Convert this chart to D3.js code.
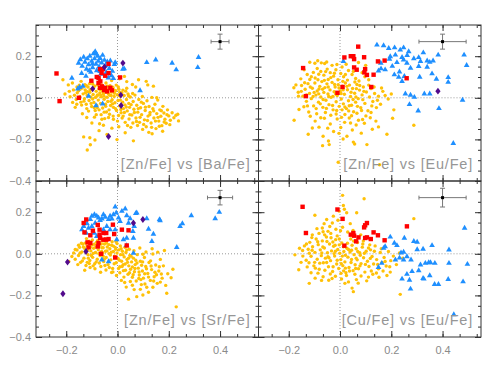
<!DOCTYPE html>
<html>
<head>
<meta charset="utf-8">
<script src="https://cdn.jsdelivr.net/npm/d3@7"></script>
<style>
  body { margin: 0; background: #fff; }
  svg { display: block; }
  .tick text { font-family: "Liberation Sans", Arial, sans-serif; font-size: 11px; fill: #8a8a8a; }
</style>
</head>
<body>
<svg id="chart"></svg>
<script>
// panel titles, error bars (x, y) and axis ticks
var panelLabels = ['[Zn/Fe] vs [Ba/Fe]', '[Zn/Fe] vs [Eu/Fe]', '[Zn/Fe] vs [Sr/Fe]', '[Cu/Fe] vs [Eu/Fe]'];
var errX = [0.035, 0.092, 0.049, 0.092];
var errY = [0.036, 0.036, 0.035, 0.045];
var errCenter = [0.4, 0.27];
var xMajor = [-0.2, 0.0, 0.2, 0.4];
var yMajor = [-0.4, -0.2, 0.0, 0.2];

// --- [Zn/Fe] vs [Ba/Fe]
var baYellow = [
  [-0.213,0.087],[-0.192,0.062],[-0.176,0.071],[-0.158,0.052],[-0.142,0.079],[-0.121,0.058],[-0.097,0.066],[-0.071,0.092],[-0.045,0.071],[-0.023,0.083],[0.008,0.091],[0.027,0.103],[0.036,0.078],[0.058,0.064],[0.082,0.087],[0.112,0.079],[0.118,0.062],[0.140,0.056],[0.071,0.052],[-0.005,0.061],[-0.188,0.031],[-0.205,0.018],
  [-0.168,0.012],[-0.161,-0.008],[-0.152,0.034],[-0.147,0.006],[-0.143,-0.021],[-0.138,0.047],[-0.134,0.019],[-0.129,-0.004],[-0.126,0.038],[-0.122,-0.031],[-0.118,0.011],[-0.115,0.052],[-0.111,-0.013],[-0.108,0.027],[-0.104,0.004],[-0.101,-0.042],[-0.098,0.041],[-0.095,0.016],[-0.092,-0.022],[-0.089,0.057],[-0.086,0.002],[-0.083,0.031],[-0.081,-0.036],[-0.078,0.014],[-0.075,-0.011],[-0.073,0.044],[-0.069,0.023],[-0.066,-0.027],[-0.064,0.005],[-0.061,0.036],[-0.058,-0.049],[-0.055,0.018],[-0.052,-0.007],[-0.049,0.047],[-0.047,-0.031],[-0.044,0.026],[-0.041,0.003],[-0.038,-0.018],[-0.036,0.039],[-0.033,-0.058],[-0.030,0.012],[-0.027,-0.037],[-0.024,0.028],[-0.021,-0.009],[-0.018,0.051],[-0.016,-0.046],[-0.013,0.006],[-0.010,-0.024],[-0.007,0.034],[-0.004,-0.061],[-0.001,0.015],[0.002,-0.013],[0.005,0.041],[0.008,-0.039],[0.011,0.007],[0.014,-0.072],[0.017,0.024],[0.020,-0.021],[0.023,-0.052],[0.026,0.011],[0.029,-0.034],[0.032,0.032],[0.035,-0.008],[0.038,-0.063],[0.041,0.018],[0.044,-0.027],[0.047,-0.046],[0.050,0.004],[-0.157,0.024],[-0.120,-0.052],[-0.097,-0.006],[-0.072,-0.058],[-0.062,0.062],[-0.043,-0.068],[-0.029,0.058],[-0.012,0.022],[0.003,0.052],[-0.087,-0.061],[-0.109,0.068],[-0.064,-0.081],[-0.035,0.018],[-0.019,-0.029],[0.009,0.027],[-0.053,0.008],[-0.080,0.009],[-0.125,0.024],[-0.140,-0.035],[-0.175,-0.022],[-0.185,0.005],[-0.165,-0.046],
  [0.056,-0.083],[0.061,-0.018],[0.064,-0.055],[0.068,0.013],[0.072,-0.097],[0.075,-0.036],[0.079,-0.069],[0.083,-0.008],[0.086,-0.118],[0.090,-0.048],[0.094,-0.081],[0.097,0.006],[0.101,-0.027],[0.105,-0.106],[0.108,-0.061],[0.112,-0.139],[0.115,-0.014],[0.119,-0.088],[0.123,-0.042],[0.127,-0.071],[0.131,-0.121],[0.134,0.002],[0.138,-0.053],[0.142,-0.097],[0.146,-0.031],[0.150,-0.148],[0.153,-0.076],[0.157,-0.011],[0.161,-0.112],[0.165,-0.058],[0.169,-0.089],[0.173,-0.134],[0.177,-0.041],[0.181,-0.073],[0.185,-0.103],[0.190,-0.122],[0.195,-0.058],[0.200,-0.087],[0.206,-0.108],[0.213,-0.072],[0.220,-0.096],[0.228,-0.084],[0.235,-0.079],[0.238,-0.111],[0.153,0.000],[0.122,-0.166],[0.098,-0.152],[0.078,-0.133],[0.060,-0.121],[0.045,-0.102],[0.030,-0.118],[0.018,-0.097],[0.052,-0.142],[0.135,-0.173],[0.176,-0.161],
  [-0.132,-0.188],[-0.108,-0.192],[-0.106,-0.226],[-0.118,-0.251],[-0.088,-0.203],[-0.041,-0.176],[-0.002,-0.201],[0.062,-0.207],[0.030,-0.168],[-0.072,-0.158],[-0.120,-0.095],[-0.137,-0.077],[-0.100,-0.121],[-0.055,-0.132],[-0.022,-0.146],[0.000,-0.112],[-0.017,-0.088],[-0.090,-0.093],[-0.050,-0.100],[0.005,-0.139],[-0.070,-0.125],[-0.035,-0.095],
  [-0.146,0.041],[-0.131,-0.016],[-0.117,0.029],[-0.103,-0.027],[-0.094,0.048],[-0.079,-0.047],[-0.066,0.013],[-0.057,0.029],[-0.046,-0.041],[-0.039,0.056],[-0.026,-0.017],[-0.014,0.038],[-0.008,-0.052],[0.006,0.011],[0.013,-0.056],[0.021,0.037],[0.027,-0.071],[0.034,-0.044],[0.043,0.009],[0.048,-0.081],[0.053,-0.033],[0.059,0.021],[0.066,-0.071],[0.074,-0.114],[0.081,-0.052],[0.088,-0.094],[0.093,-0.021],[0.102,-0.128],[0.109,-0.045],[0.117,-0.109],[0.126,-0.081],[0.133,-0.142],[0.141,-0.063],[0.148,-0.112],[0.158,-0.094],[0.163,-0.137],[0.171,-0.062],[0.182,-0.116],[0.193,-0.081],[0.204,-0.129],[-0.172,0.038],[-0.159,-0.031],[-0.149,0.061],[-0.127,0.063],[-0.113,-0.064],[-0.091,-0.048],[-0.077,0.061],[-0.052,-0.069],[-0.031,-0.079],[-0.016,-0.103],[0.004,-0.085],[0.022,-0.088],[0.039,-0.133],[-0.061,-0.103],[-0.083,-0.081],[-0.107,0.039],[-0.069,0.041],[-0.025,0.011],[0.011,-0.011],[0.036,0.046]
];
var baBlue = [
  [-0.152,0.167],[-0.145,0.184],[-0.138,0.152],[-0.132,0.196],[-0.127,0.172],[-0.121,0.138],[-0.118,0.188],[-0.113,0.159],[-0.108,0.201],[-0.104,0.123],[-0.101,0.176],[-0.097,0.145],[-0.094,0.212],[-0.090,0.188],[-0.087,0.222],[-0.084,0.162],[-0.081,0.131],[-0.078,0.201],[-0.075,0.176],[-0.072,0.149],[-0.068,0.190],[-0.065,0.114],[-0.062,0.168],[-0.058,0.205],[-0.055,0.138],[-0.051,0.181],[-0.047,0.155],[-0.044,0.122],[-0.040,0.173],[-0.036,0.096],[-0.032,0.142],[-0.028,0.178],[-0.024,0.107],[-0.020,0.128],[-0.016,0.093],[-0.012,0.161],[-0.082,0.211],[-0.098,0.163],[-0.110,0.131],[-0.068,0.127],[-0.123,0.104],[-0.140,0.118],
  [-0.178,0.095],[-0.009,0.170],[0.021,0.138],[0.026,0.140],[0.114,0.170],[0.149,0.183],[0.213,0.167],[0.229,0.135],[0.316,0.195],[0.313,0.146],[0.088,0.035],[-0.155,0.043],[-0.148,0.050],[-0.135,0.056],[-0.113,0.008],[-0.084,-0.037],[-0.058,-0.029],[-0.050,0.046]
];
var baRed = [
  [-0.238,0.117],[-0.226,-0.016],[-0.151,0.000],[-0.102,0.082],[-0.035,0.163],[-0.057,0.138],[-0.068,0.138],[-0.062,0.119],[-0.035,0.119],[-0.048,0.106],[-0.081,0.100],[-0.074,0.095],[-0.074,0.071],[-0.067,0.079],[-0.061,0.055],[-0.068,0.048],[-0.048,0.048],[-0.052,0.037],[-0.028,0.048],[-0.022,0.036],[-0.041,0.031],[0.010,0.098]
];
var baPurple = [[0.021,0.167],[-0.051,0.148],[-0.097,0.043],[0.013,0.013],[0.014,-0.037],[-0.035,-0.186]];

// --- [Zn/Fe] vs [Eu/Fe]
var euYellow = [
  [-0.118,0.171],[-0.098,0.166],[-0.087,0.178],[-0.073,0.168],[-0.060,0.165],[-0.052,0.172],[-0.031,0.156],[-0.012,0.160],[0.008,0.148],[0.024,0.161],[0.072,0.170],[0.100,0.156],[-0.140,0.135],[-0.128,0.112],[-0.104,0.122],[-0.089,0.141],[-0.075,0.127],[-0.063,0.109],[-0.050,0.138],[-0.038,0.121],[-0.025,0.104],[-0.016,0.135],[0.003,0.117],[0.014,0.101],[0.033,0.131],[0.047,0.112],[0.061,0.093],[0.086,0.121],[0.097,0.101],[0.112,0.087],[-0.153,0.091],[-0.118,0.088],[-0.097,0.095],[-0.046,0.088],[-0.008,0.087],[0.029,0.085],[0.074,0.081],
  [-0.180,0.048],[-0.172,0.062],[-0.163,0.027],[-0.150,0.059],[-0.145,0.008],[-0.136,0.041],[-0.131,-0.017],[-0.125,0.068],[-0.119,0.021],[-0.112,-0.004],[-0.108,0.046],[-0.103,-0.039],[-0.098,0.071],[-0.094,0.013],[-0.089,0.033],[-0.084,-0.021],[-0.079,0.055],[-0.075,0.004],[-0.071,0.078],[-0.067,-0.046],[-0.063,0.026],[-0.059,0.049],[-0.055,-0.012],[-0.051,0.067],[-0.047,0.018],[-0.043,-0.033],[-0.039,0.038],[-0.035,0.002],[-0.031,0.074],[-0.027,-0.058],[-0.023,0.029],[-0.019,0.052],[-0.015,-0.019],[-0.011,0.011],[-0.007,0.063],[-0.003,-0.041],[0.001,0.033],[0.005,-0.006],[0.009,0.056],[0.013,-0.029],[0.017,0.017],[0.021,0.071],[0.025,-0.052],[0.029,0.039],[0.033,-0.014],[0.037,0.061],[0.041,0.006],[0.045,-0.036],[0.049,0.045],[0.053,-0.067],[0.057,0.022],[0.061,-0.021],[0.066,0.064],[0.071,-0.004],[0.076,0.037],[0.081,-0.048],[0.086,0.014],[0.091,0.052],[0.097,-0.027],[0.103,0.028],[0.109,-0.062],[0.115,0.004],[0.121,0.044],[0.128,-0.018],[0.135,0.021],[0.142,-0.047],[0.150,0.008],[0.158,-0.031],[0.167,0.031],[0.176,0.011],[0.188,-0.006],[0.200,0.018],[-0.160,-0.056],[-0.141,-0.043],[-0.122,-0.068],[-0.091,-0.077],[-0.057,-0.071],[-0.015,-0.078],[0.019,-0.080],[0.066,-0.074],[0.121,-0.071],[-0.082,0.042],[-0.046,0.052],[-0.028,0.007],[0.004,0.021],[0.036,-0.038],[-0.066,-0.008],[0.064,0.044],[0.089,-0.009],[-0.101,0.026],[-0.131,0.014],
  [-0.179,-0.108],[-0.124,-0.175],[-0.097,-0.112],[-0.082,-0.141],[-0.068,-0.230],[-0.061,-0.098],[-0.045,-0.208],[-0.042,-0.225],[-0.038,-0.126],[-0.025,-0.162],[-0.011,-0.102],[0.003,-0.143],[0.018,-0.118],[0.027,-0.185],[0.036,-0.097],[0.048,-0.155],[0.052,-0.213],[0.057,-0.222],[0.063,-0.131],[0.072,-0.108],[0.083,-0.170],[0.095,-0.122],[0.105,-0.225],[0.118,-0.096],[0.126,-0.151],[0.140,-0.112],[0.150,-0.140],[0.183,-0.175],[0.205,-0.098],[0.210,-0.058],[0.288,-0.132],[0.154,-0.322],[-0.007,-0.310],[-0.066,-0.185],[0.012,-0.198],[-0.108,-0.145],
  [-0.151,0.031],[-0.138,0.072],[-0.127,-0.039],[-0.116,0.052],[-0.105,0.006],[-0.093,-0.052],[-0.086,0.087],[-0.077,-0.029],[-0.068,0.041],[-0.061,0.084],[-0.053,-0.051],[-0.044,0.006],[-0.036,0.097],[-0.029,-0.037],[-0.021,0.064],[-0.013,-0.061],[-0.004,0.047],[0.006,-0.094],[0.011,0.079],[0.019,-0.044],[0.027,0.055],[0.034,-0.063],[0.043,0.027],[0.051,-0.008],[0.058,0.076],[0.068,-0.041],[0.077,0.059],[0.084,-0.061],[0.093,0.031],[0.101,-0.087],[0.112,0.061],[0.124,-0.039],[0.133,0.052],[0.146,-0.012],[0.162,0.047],[-0.112,0.101],[-0.083,0.113],[-0.056,0.126],[-0.022,0.118],[0.021,0.112],[0.052,0.127],[-0.116,-0.089],[-0.075,-0.096],[-0.036,-0.084],[0.008,-0.058],[0.045,-0.086],[0.088,-0.104],[-0.048,-0.146],[-0.004,-0.171],[0.041,-0.121],[-0.162,0.008],[-0.017,0.018],[0.012,0.038],[-0.083,0.019],[0.062,0.004]
];
var euBlue = [
  [0.013,0.175],[0.144,0.254],[0.170,0.251],[0.190,0.238],[0.213,0.241],[0.235,0.230],[0.248,0.241],[0.268,0.222],[0.325,0.217],[0.383,0.206],[0.484,0.206],[0.494,0.156],[0.159,0.167],[0.196,0.198],[0.193,0.186],[0.216,0.206],[0.222,0.170],[0.242,0.195],[0.248,0.183],[0.261,0.167],[0.288,0.189],[0.307,0.194],[0.314,0.175],[0.340,0.178],[0.350,0.171],[0.363,0.178],[0.150,0.130],[0.176,0.135],[0.212,0.111],[0.229,0.100],[0.251,0.103],[0.275,0.143],[0.307,0.151],[0.340,0.148],[0.359,0.116],[0.376,0.090],[0.311,0.100],[0.422,0.098],[0.422,0.075],[0.242,0.079],[0.255,0.019],[0.275,0.013],[0.290,0.003],[0.329,0.019],[0.350,0.019],[0.478,-0.011],[0.271,-0.032],[0.305,-0.063],[0.386,-0.051],[0.442,-0.219],[0.160,0.140],[0.204,0.152],[0.232,0.125],[0.262,0.204]
];
var euRed = [
  [-0.144,0.143],[-0.133,0.008],[-0.010,0.024],[0.010,0.052],[0.017,0.194],[0.042,0.200],[0.052,0.200],[0.055,0.186],[0.071,0.246],[0.094,0.195],[0.055,0.146],[0.065,0.135],[0.098,0.138],[0.095,0.122],[0.105,0.110],[0.131,0.111],[0.122,0.052],[0.148,0.175],[0.174,0.179],[0.260,0.094]
];
var euPurple = [[0.382,0.032]];

// --- [Zn/Fe] vs [Sr/Fe]
var srYellow = [
  [-0.190,-0.037],[-0.178,-0.013],[-0.171,0.004],[-0.165,-0.026],[-0.158,0.018],[-0.152,-0.008],[-0.148,0.031],[-0.144,-0.041],[-0.139,0.009],[-0.135,0.047],[-0.131,-0.021],[-0.127,0.024],[-0.123,-0.056],[-0.119,0.038],[-0.115,-0.004],[-0.111,0.061],[-0.108,-0.032],[-0.104,0.014],[-0.100,0.042],[-0.097,-0.017],[-0.093,0.027],[-0.089,-0.048],[-0.086,0.006],[-0.082,0.055],[-0.079,-0.026],[-0.075,0.019],[-0.072,0.038],[-0.068,-0.009],[-0.065,-0.061],[-0.061,0.029],[-0.058,0.003],[-0.054,-0.037],[-0.051,0.047],[-0.047,0.012],[-0.044,-0.018],[-0.040,0.033],[-0.037,-0.052],[-0.033,0.001],[-0.030,0.024],[-0.026,-0.029],[-0.023,0.041],[-0.019,-0.071],[-0.016,0.011],[-0.012,-0.011],[-0.009,0.031],[-0.005,-0.043],[-0.002,0.004],[0.002,-0.022],[0.005,0.019],[0.009,-0.062],[0.012,-0.004],[0.016,-0.036],[0.019,0.012],[0.023,-0.081],[0.026,-0.015],[0.030,-0.049],[0.033,0.006],[0.037,-0.027],[0.041,-0.098],[0.044,-0.058],[0.048,-0.008],[0.051,-0.074],[0.055,-0.039],[0.058,-0.113],[0.062,-0.021],[0.066,-0.086],[0.069,-0.052],[0.073,-0.131],[0.077,-0.004],[0.081,-0.069],[0.085,-0.102],[0.089,-0.036],[0.093,-0.148],[0.097,-0.083],[0.101,-0.117],[0.105,-0.018],[0.110,-0.061],[0.114,-0.161],[0.118,-0.095],[0.123,-0.042],[0.128,-0.128],[0.133,-0.076],[0.138,-0.001],[0.143,-0.110],[0.149,-0.054],[0.155,-0.142],[0.161,-0.083],[0.167,-0.027],[0.174,-0.117],[0.179,-0.058],[0.183,0.016],[0.188,-0.152],[0.192,-0.190],[0.209,-0.115],[0.216,-0.074],[0.229,-0.255],[0.043,-0.218],[0.075,-0.206],[0.099,-0.198],[0.121,-0.185],[0.065,-0.172],[0.034,-0.160],[0.015,-0.128],[-0.004,-0.104],[-0.023,-0.090],[-0.045,-0.078],[-0.066,-0.089],[-0.088,-0.072],[-0.107,-0.066],[-0.128,-0.079],[-0.141,0.051],[-0.121,0.073],[-0.098,0.066],[-0.074,0.082],[-0.059,0.062],[-0.036,0.071],[-0.021,0.058],[-0.002,0.049],[0.011,0.038],[0.029,0.031],[0.046,0.022],[0.064,0.015],[0.087,0.028],[0.111,0.009],[0.135,0.024],[0.157,0.008],[-0.117,0.018],[-0.095,0.002],[-0.077,0.041],[-0.056,-0.012],[-0.043,0.052],[-0.028,-0.006],[-0.007,0.022],[0.021,-0.004],[-0.133,0.033],[-0.085,0.032],[-0.062,0.011],[-0.016,0.037],[0.007,-0.031],[0.039,-0.041],[-0.049,-0.056],[-0.110,-0.047],[-0.155,-0.052],[0.058,-0.063],[0.071,-0.031],[0.094,-0.055],[0.129,-0.034],[0.146,-0.089],[0.107,-0.145],[0.083,-0.119],[0.050,-0.133],[0.025,-0.112],[0.138,-0.161],[0.167,-0.136],[0.196,-0.096],
  [-0.146,0.004],[-0.137,-0.034],[-0.125,0.052],[-0.114,-0.021],[-0.106,0.031],[-0.091,0.046],[-0.083,-0.039],[-0.071,-0.044],[-0.063,0.047],[-0.052,-0.026],[-0.041,0.014],[-0.032,-0.066],[-0.024,0.008],[-0.013,-0.048],[-0.006,0.059],[0.004,-0.071],[0.014,0.024],[0.022,-0.052],[0.031,-0.079],[0.036,0.018],[0.047,-0.091],[0.053,-0.012],[0.061,-0.101],[0.068,-0.071],[0.076,-0.044],[0.084,-0.087],[0.091,-0.124],[0.098,-0.039],[0.106,-0.096],[0.113,-0.072],[0.121,-0.112],[0.131,-0.059],[0.141,-0.131],[0.152,-0.101],[0.163,-0.062],[0.171,-0.097],[-0.165,0.021],[-0.152,0.041],[-0.118,-0.041],[-0.095,-0.058],[-0.078,0.063],[-0.048,0.071],[-0.018,-0.087],[0.009,-0.091],[0.028,-0.138],[0.058,-0.151],[0.089,-0.171],[-0.056,0.029],[-0.034,0.044],[-0.009,-0.016],[0.018,-0.061],[-0.102,-0.008],[-0.073,0.001],[0.043,-0.021],[0.099,-0.002]
];
var srBlue = [
  [-0.139,0.116],[-0.132,0.132],[-0.119,0.145],[-0.106,0.165],[-0.100,0.181],[-0.090,0.189],[-0.081,0.181],[-0.074,0.173],[-0.068,0.161],[-0.061,0.168],[-0.055,0.189],[-0.048,0.177],[-0.035,0.165],[-0.029,0.181],[-0.022,0.168],[-0.016,0.189],[-0.009,0.226],[-0.005,0.197],[0.004,0.173],[0.010,0.156],[0.017,0.205],[0.030,0.216],[0.036,0.184],[0.043,0.148],[0.049,0.169],[0.060,0.108],[0.065,0.132],[0.071,0.194],[-0.122,0.100],[-0.100,0.132],[-0.091,0.100],[-0.081,0.084],[-0.055,0.116],[-0.029,0.116],[-0.009,0.116],[-0.003,0.068],[0.023,0.068],[0.036,0.076],[0.062,0.076],[-0.042,0.132],[-0.087,0.148],[-0.113,0.124],
  [0.075,0.197],[0.114,0.169],[0.121,0.119],[0.140,0.095],[0.134,0.060],[0.164,0.165],[0.166,0.160],[0.231,0.031],[0.244,0.132],[0.253,0.145],[0.288,0.184],[0.381,0.169],[0.397,0.200],[-0.061,-0.029],[-0.035,-0.037],[0.062,0.003],[0.035,0.040]
];
var srRed = [
  [-0.122,0.165],[-0.132,0.148],[-0.129,0.103],[-0.106,0.089],[-0.117,0.055],[-0.106,0.052],[-0.113,0.031],[-0.096,0.111],[-0.077,0.139],[-0.070,0.116],[-0.070,0.092],[-0.068,0.076],[-0.074,0.052],[-0.077,0.035],[-0.055,0.100],[-0.044,0.100],[-0.055,0.068],[-0.044,0.068],[-0.035,0.071],[-0.018,0.140],[-0.013,0.095],[-0.064,0.000],[-0.009,-0.018],[0.017,0.116],[0.043,0.113],[0.036,0.040]
];
var srPurple = [[-0.195,-0.040],[-0.213,-0.192],[-0.123,0.011],[0.062,0.148],[0.099,0.165]];

// --- [Cu/Fe] vs [Eu/Fe]
var cuYellow = [
  [0.010,0.281],[0.094,0.265],[0.013,0.232],[0.017,0.214],[0.065,0.197],[-0.098,0.185],[-0.052,0.165],[-0.026,0.181],[-0.008,0.161],[-0.069,0.124],[-0.040,0.131],[-0.082,0.098],[-0.108,0.091],[-0.016,0.118],[-0.047,0.108],[0.026,0.197],[0.040,0.145],[0.010,0.128],[0.288,0.169],[-0.003,0.205],[0.030,0.105],[-0.030,0.148],[-0.062,0.145],[-0.090,0.121],
  [-0.176,-0.005],[-0.161,-0.077],[-0.146,0.016],[-0.139,0.038],[-0.132,-0.031],[-0.124,0.022],[-0.118,0.055],[-0.113,-0.012],[-0.107,0.034],[-0.102,-0.058],[-0.098,0.007],[-0.093,0.071],[-0.089,-0.026],[-0.085,0.044],[-0.081,-0.074],[-0.077,0.019],[-0.073,-0.009],[-0.069,0.062],[-0.065,-0.043],[-0.061,0.028],[-0.057,-0.021],[-0.053,0.081],[-0.049,0.005],[-0.045,-0.062],[-0.041,0.047],[-0.037,-0.033],[-0.033,0.014],[-0.029,-0.085],[-0.025,0.036],[-0.021,-0.011],[-0.017,0.068],[-0.013,-0.049],[-0.009,0.021],[-0.005,-0.071],[-0.001,0.003],[0.003,-0.028],[0.007,0.052],[0.011,-0.057],[0.015,0.011],[0.019,-0.039],[0.023,-0.091],[0.027,0.027],[0.031,-0.016],[0.035,-0.066],[0.039,0.009],[0.043,-0.042],[0.047,0.041],[0.051,-0.081],[0.055,-0.004],[0.059,-0.053],[0.063,0.024],[0.067,-0.029],[0.072,-0.072],[0.077,0.005],[0.082,-0.047],[0.087,0.032],[0.092,-0.019],[0.097,-0.088],[0.102,0.012],[0.107,-0.036],[0.113,-0.061],[0.119,0.019],[0.125,-0.013],[0.131,-0.049],[0.137,0.038],[0.143,-0.028],[0.150,-0.072],[0.157,0.006],[0.164,-0.041],[0.172,-0.018],[0.180,-0.059],[0.189,0.011],[0.198,-0.033],[0.208,-0.011],[0.220,-0.052],[0.232,0.004],[0.245,-0.021],[-0.152,-0.041],[-0.128,-0.063],[-0.110,0.078],[-0.086,-0.093],[-0.060,0.091],[-0.038,-0.097],[-0.011,0.086],[0.014,-0.082],[0.042,0.071],[0.068,0.054],[0.091,0.062],[0.116,0.043],[-0.071,0.004],[-0.047,-0.014],[-0.023,0.001],[-0.003,0.043],[0.021,-0.007],[0.045,0.017],[0.079,-0.007],[-0.099,-0.041],[-0.120,0.003],[0.004,-0.094],[-0.028,0.057],[0.058,-0.098],
  [-0.120,-0.142],[-0.097,-0.117],[-0.066,-0.110],[-0.044,-0.127],[-0.018,-0.108],[0.006,-0.121],[0.025,-0.104],[0.047,-0.165],[0.052,-0.182],[0.064,-0.124],[0.082,-0.107],[0.104,-0.130],[0.128,-0.098],[0.152,-0.113],[0.183,-0.104],[0.235,-0.195],[0.168,-0.083],[0.196,-0.088],[0.033,-0.135],
  [-0.145,-0.011],[-0.131,0.047],[-0.121,-0.043],[-0.109,0.017],[-0.096,-0.069],[-0.087,0.058],[-0.079,-0.045],[-0.067,0.033],[-0.059,-0.079],[-0.051,0.059],[-0.043,-0.019],[-0.035,0.077],[-0.027,-0.062],[-0.019,0.041],[-0.011,-0.031],[-0.003,0.071],[0.005,-0.047],[0.013,0.034],[0.021,-0.069],[0.029,0.051],[0.037,-0.083],[0.045,-0.027],[0.053,0.061],[0.061,-0.071],[0.069,0.011],[0.078,-0.058],[0.089,0.047],[0.099,-0.051],[0.111,0.028],[0.122,-0.083],[0.134,0.012],[0.147,-0.051],[0.161,0.024],[0.176,-0.037],[0.194,-0.062],[-0.066,0.106],[-0.036,0.098],[0.002,0.111],[0.051,0.112],[0.081,0.091],[-0.113,-0.091],[-0.072,-0.128],[-0.031,-0.119],[0.019,-0.142],[0.071,-0.141],[0.111,-0.112],[0.142,-0.092],[-0.158,0.027],[-0.018,0.012],[0.009,-0.011],[0.033,0.021],[-0.052,-0.042],[0.063,-0.021],[0.095,0.003],[0.118,-0.022]
];
var cuBlue = [
  [0.196,0.081],[0.176,0.035],[0.170,0.027],[0.212,0.052],[0.222,0.040],[0.251,0.076],[0.288,0.060],[0.301,0.056],[0.486,0.124],[0.425,0.019],[0.359,0.040],[0.324,0.023],[0.301,0.020],[0.248,0.008],[0.216,-0.029],[0.248,-0.029],[0.261,-0.013],[0.277,-0.029],[0.150,-0.065],[0.163,-0.045],[0.314,-0.053],[0.333,-0.045],[0.346,-0.042],[0.353,-0.042],[0.370,-0.045],[0.425,-0.045],[0.497,-0.050],[0.307,-0.081],[0.281,-0.085],[0.261,-0.098],[0.242,-0.121],[0.271,-0.126],[0.324,-0.118],[0.327,-0.121],[0.350,-0.105],[0.369,-0.147],[0.384,-0.147],[0.422,-0.123],[0.480,-0.134],[0.275,-0.169],[0.444,-0.292],[0.238,0.005],[0.232,-0.020]
];
var cuRed = [
  [-0.146,0.226],[-0.133,0.100],[-0.010,0.213],[0.010,0.168],[0.017,0.039],[0.042,0.092],[0.052,0.100],[0.055,0.087],[0.063,0.060],[0.072,0.079],[0.094,0.127],[0.098,0.137],[0.105,0.148],[0.098,0.076],[0.105,0.079],[0.120,0.071],[0.131,0.103],[0.148,0.089],[0.174,0.065],[0.261,0.132]
];
var cuPurple = [];

var panels = [
  {yellow: baYellow, blue: baBlue, red: baRed, purple: baPurple},
  {yellow: euYellow, blue: euBlue, red: euRed, purple: euPurple},
  {yellow: srYellow, blue: srBlue, red: srRed, purple: srPurple},
  {yellow: cuYellow, blue: cuBlue, red: cuRed, purple: cuPurple}
];

var width = 501, height = 371;
var plotLeft = 36, plotTop = 25, pw = 222.5, ph = 156;

var svg = d3.select('#chart').attr('width', width).attr('height', height);

var xMinor = d3.range(-4, 9).map(k => k * 0.2 / 3);
var yMinor = d3.range(-8, 8).map(k => k * 0.05);

var triangle = d3.symbol().type(d3.symbolTriangle).size(14);
var diamond = 'M0,-3.4L2.6,0L0,3.4L-2.6,0Z';

panels.forEach(function(p, i) {
  var col = i % 2, row = Math.floor(i / 2);
  var x = d3.scaleLinear().domain([-0.318, 0.55]).range([plotLeft + col * pw, plotLeft + (col + 1) * pw]);
  var y = d3.scaleLinear().domain([-0.4, 0.35]).range([plotTop + (row + 1) * ph, plotTop + row * ph]);
  var g = svg.append('g');

  // zero lines
  g.append('line')
    .attr('x1', x(0)).attr('x2', x(0))
    .attr('y1', y.range()[1]).attr('y2', y.range()[0])
    .attr('stroke', '#999').attr('stroke-dasharray', '1,2');
  g.append('line')
    .attr('x1', x.range()[0]).attr('x2', x.range()[1])
    .attr('y1', y(0)).attr('y2', y(0))
    .attr('stroke', '#999').attr('stroke-dasharray', '1,2');

  // points
  g.append('g').selectAll('circle').data(p.yellow).enter().append('circle')
    .attr('cx', d => x(d[0])).attr('cy', d => y(d[1])).attr('r', 1.7)
    .attr('fill', '#ffc107');
  g.append('g').selectAll('path').data(p.blue).enter().append('path')
    .attr('d', triangle)
    .attr('transform', d => 'translate(' + x(d[0]) + ',' + y(d[1]) + ')')
    .attr('fill', '#1e8fff');
  g.append('g').selectAll('rect').data(p.red).enter().append('rect')
    .attr('x', d => x(d[0]) - 2.2).attr('y', d => y(d[1]) - 2.2)
    .attr('width', 4.4).attr('height', 4.4)
    .attr('fill', '#ff0000');
  g.append('g').selectAll('path').data(p.purple).enter().append('path')
    .attr('d', diamond)
    .attr('transform', d => 'translate(' + x(d[0]) + ',' + y(d[1]) + ')')
    .attr('fill', '#520a8c');

  // typical error bar
  var eb = g.append('g').attr('stroke', '#777').attr('fill', 'none');
  var cx = x(errCenter[0]), cy = y(errCenter[1]);
  eb.append('line').attr('x1', x(errCenter[0] - errX[i])).attr('x2', x(errCenter[0] + errX[i])).attr('y1', cy).attr('y2', cy);
  eb.append('line').attr('x1', cx).attr('x2', cx).attr('y1', y(errCenter[1] - errY[i])).attr('y2', y(errCenter[1] + errY[i]));
  [errCenter[0] - errX[i], errCenter[0] + errX[i]].forEach(function(v) {
    eb.append('line').attr('x1', x(v)).attr('x2', x(v)).attr('y1', cy - 2).attr('y2', cy + 2);
  });
  [errCenter[1] - errY[i], errCenter[1] + errY[i]].forEach(function(v) {
    eb.append('line').attr('x1', cx - 2.5).attr('x2', cx + 2.5).attr('y1', y(v)).attr('y2', y(v));
  });
  g.append('rect').attr('x', cx - 1.5).attr('y', cy - 1.5).attr('width', 3).attr('height', 3).attr('fill', '#000');

  // ticks on all four sides, pointing inward
  var x0 = x.range()[0], x1 = x.range()[1], y0 = y.range()[0], y1 = y.range()[1];
  function ticks(axis, tx, ty) {
    var a = g.append('g').attr('transform', 'translate(' + tx + ',' + ty + ')').call(axis);
    a.select('.domain').remove();
    a.selectAll('line').attr('stroke', '#333');
    return a;
  }
  ticks(d3.axisBottom(x).tickValues(xMinor).tickSize(-3).tickFormat(''), 0, y0);
  ticks(d3.axisTop(x).tickValues(xMinor).tickSize(-3).tickFormat(''), 0, y1);
  ticks(d3.axisLeft(y).tickValues(yMinor).tickSize(-3).tickFormat(''), x0, 0);
  ticks(d3.axisRight(y).tickValues(yMinor).tickSize(-3).tickFormat(''), x1, 0);
  ticks(d3.axisBottom(x).tickValues(xMajor).tickSize(-6).tickPadding(9)
    .tickFormat(row === 1 ? d3.format('.1f') : ''), 0, y0);
  ticks(d3.axisTop(x).tickValues(xMajor).tickSize(-6).tickFormat(''), 0, y1);
  ticks(d3.axisLeft(y).tickValues(yMajor).tickSize(-6).tickPadding(5)
    .tickFormat(col === 0 ? d3.format('.1f') : ''), x0, 0);
  ticks(d3.axisRight(y).tickValues(yMajor).tickSize(-6).tickFormat(''), x1, 0);

  // frame
  g.append('rect')
    .attr('x', x0).attr('y', y1).attr('width', x1 - x0).attr('height', y0 - y1)
    .attr('fill', 'none').attr('stroke', '#333');

  // panel title
  g.append('text')
    .attr('x', x1 - 8).attr('y', y0 - 12)
    .attr('text-anchor', 'end')
    .style('font-family', '"Liberation Sans", Arial, sans-serif')
    .style('font-size', '14.5px')
    .style('letter-spacing', '0.8px')
    .style('fill', '#969696')
    .text(panelLabels[i]);
});
</script>
</body>
</html>
